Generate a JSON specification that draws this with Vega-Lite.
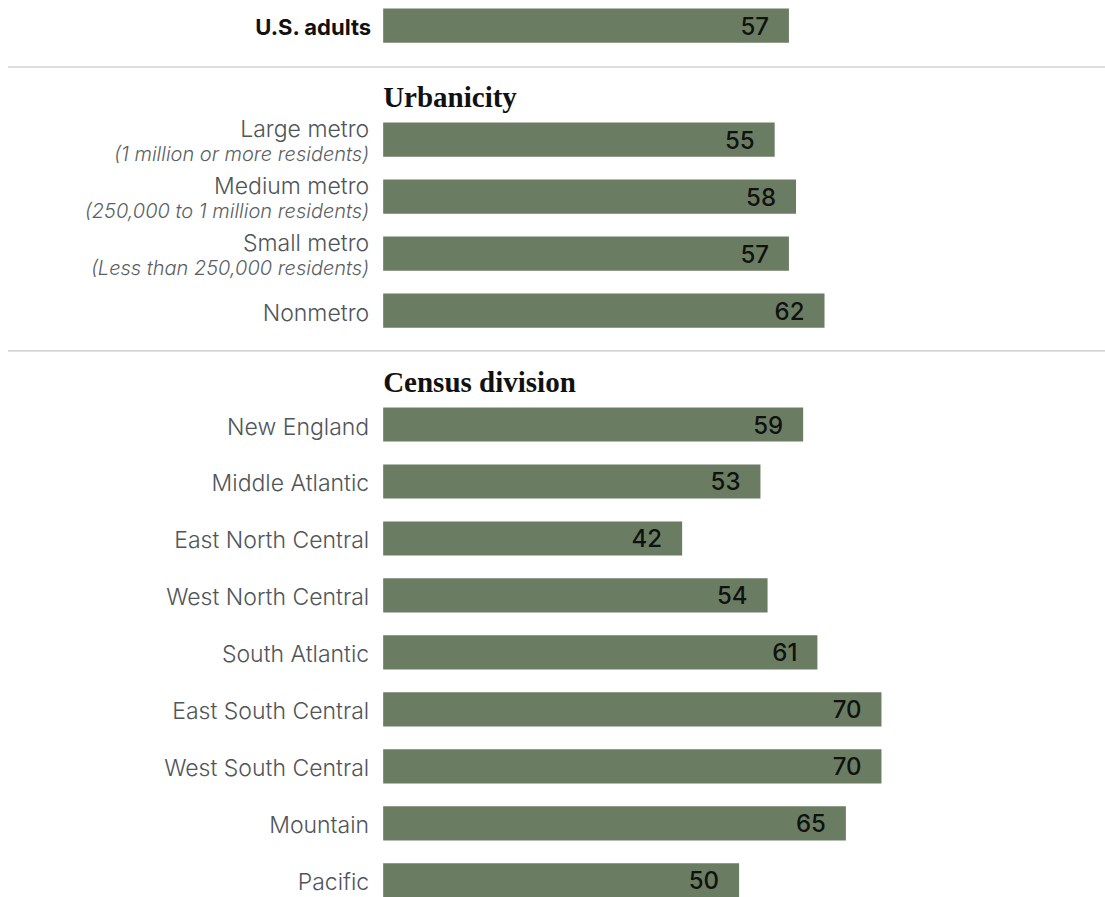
{
  "$schema": "https://vega.github.io/schema/vega-lite/v6.json",
  "autosize": "none",
  "padding": {"left": 8, "top": 0, "right": 0, "bottom": 0},
  "width": 1097,
  "height": 906,
  "background": "white",
  "config": {"view": {"stroke": null}},
  "data": {
    "values": [
      {"label": "U.S. adults", "sub": "", "kind": "total", "value": 57},
      {"label": "Urbanicity", "sub": "", "kind": "header", "value": null},
      {"label": "Large metro", "sub": "(1 million or more residents)", "kind": "bar", "value": 55},
      {"label": "Medium metro", "sub": "(250,000 to 1 million residents)", "kind": "bar", "value": 58},
      {"label": "Small metro", "sub": "(Less than 250,000 residents)", "kind": "bar", "value": 57},
      {"label": "Nonmetro", "sub": "", "kind": "bar", "value": 62},
      {"label": "Census division", "sub": "", "kind": "header", "value": null},
      {"label": "New England", "sub": "", "kind": "bar", "value": 59},
      {"label": "Middle Atlantic", "sub": "", "kind": "bar", "value": 53},
      {"label": "East North Central", "sub": "", "kind": "bar", "value": 42},
      {"label": "West North Central", "sub": "", "kind": "bar", "value": 54},
      {"label": "South Atlantic", "sub": "", "kind": "bar", "value": 61},
      {"label": "East South Central", "sub": "", "kind": "bar", "value": 70},
      {"label": "West South Central", "sub": "", "kind": "bar", "value": 70},
      {"label": "Mountain", "sub": "", "kind": "bar", "value": 65},
      {"label": "Pacific", "sub": "", "kind": "bar", "value": 50}
    ]
  },
  "encoding": {
    "y": {
      "field": "label",
      "type": "nominal",
      "axis": null,
      "scale": {
        "domain": ["U.S. adults", "Urbanicity", "Large metro", "Medium metro", "Small metro", "Nonmetro", "Census division", "New England", "Middle Atlantic", "East North Central", "West North Central", "South Atlantic", "East South Central", "West South Central", "Mountain", "Pacific"],
        "paddingInner": 0.4,
        "paddingOuter": 0.15
      }
    }
  },
  "layer": [
    {
      "transform": [{"filter": "datum.label === 'Urbanicity'"}],
      "mark": {"type": "rule", "stroke": "#d2d2d2", "strokeWidth": 1.5, "yOffset": 1.5},
      "encoding": {"y": {"field": "label", "type": "nominal", "bandPosition": 0}}
    },
    {
      "transform": [{"filter": "datum.label === 'Census division'"}],
      "mark": {"type": "rule", "stroke": "#c4c4c4", "strokeWidth": 1.2, "yOffset": 0.5},
      "encoding": {"y": {"field": "label", "type": "nominal", "bandPosition": 0}}
    },
    {
      "transform": [{"filter": "datum.kind !== 'header'"}],
      "mark": {"type": "bar", "color": "#6a7d62"},
      "encoding": {
        "x": {"field": "value", "type": "quantitative", "axis": null, "scale": {"domain": [-52.7, 101.4], "zero": false, "nice": false}}
      }
    },
    {
      "transform": [{"filter": "datum.kind !== 'header'"}],
      "mark": {"type": "text", "align": "right", "baseline": "middle", "dx": -20, "dy": 2, "font": "Inter", "fontSize": 24, "fontWeight": 500, "color": "#111111"},
      "encoding": {
        "x": {"field": "value", "type": "quantitative"},
        "text": {"field": "value", "type": "quantitative"}
      }
    },
    {
      "transform": [{"filter": "datum.kind === 'bar' && datum.sub === ''"}],
      "mark": {"type": "text", "align": "right", "baseline": "middle", "dx": -14, "dy": 3, "font": "Inter", "fontSize": 23, "fontWeight": 300, "color": "#50555a"},
      "encoding": {
        "x": {"datum": 0, "type": "quantitative"},
        "text": {"field": "label"}
      }
    },
    {
      "transform": [{"filter": "datum.kind === 'bar' && datum.sub !== ''"}],
      "mark": {"type": "text", "align": "right", "baseline": "middle", "dx": -14, "dy": -10, "font": "Inter", "fontSize": 23, "fontWeight": 300, "color": "#50555a"},
      "encoding": {
        "x": {"datum": 0, "type": "quantitative"},
        "text": {"field": "label"}
      }
    },
    {
      "transform": [{"filter": "datum.kind === 'bar' && datum.sub !== ''"}],
      "mark": {"type": "text", "align": "right", "baseline": "middle", "dx": -14, "dy": 15, "font": "Inter", "fontSize": 20, "fontWeight": 300, "fontStyle": "italic", "color": "#5a5f64"},
      "encoding": {
        "x": {"datum": 0, "type": "quantitative"},
        "text": {"field": "sub"}
      }
    },
    {
      "transform": [{"filter": "datum.kind === 'total'"}],
      "mark": {"type": "text", "align": "right", "baseline": "middle", "dx": -12, "dy": 2, "font": "Inter", "fontSize": 22, "fontWeight": "bold", "color": "#111111"},
      "encoding": {
        "x": {"datum": 0, "type": "quantitative"},
        "text": {"field": "label"}
      }
    },
    {
      "transform": [{"filter": "datum.kind === 'header'"}],
      "mark": {"type": "text", "align": "left", "baseline": "middle", "dy": 15, "font": "Liberation Serif", "fontSize": 29, "fontWeight": "bold", "color": "#111111"},
      "encoding": {
        "x": {"datum": 0, "type": "quantitative"},
        "text": {"field": "label"}
      }
    }
  ]
}
